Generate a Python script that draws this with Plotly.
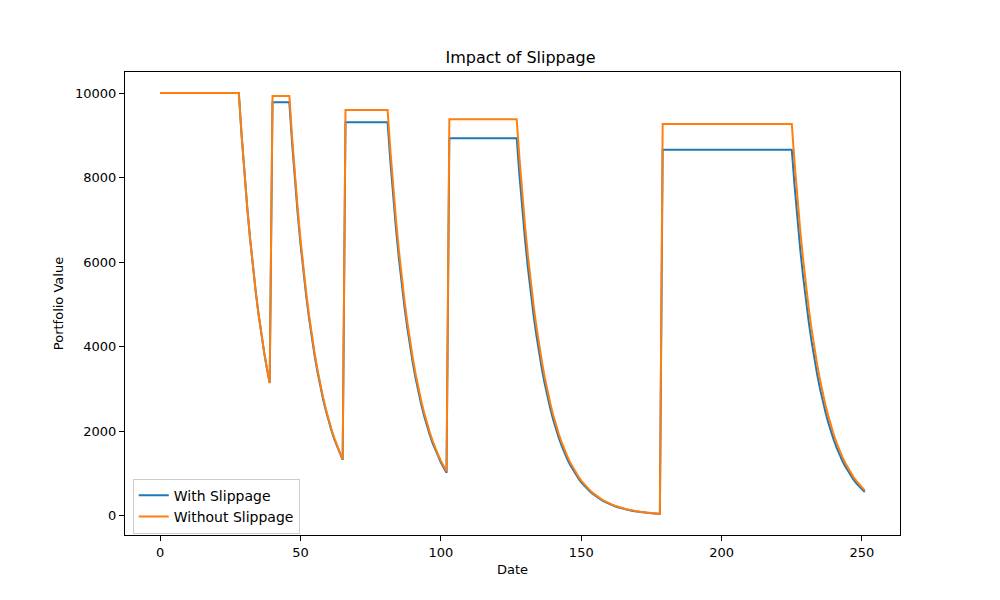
import plotly.graph_objects as go

# day index (0..251)
jours = list(range(252))

# portfolio value with slippage
avec_slippage = [
    10000, 10000, 10000, 10000, 10000, 10000, 10000, 10000, 10000, 10000,
    10000, 10000, 10000, 10000, 10000, 10000, 10000, 10000, 10000, 10000,
    10000, 10000, 10000, 10000, 10000, 10000, 10000, 10000, 10000,
    9000, 8100, 7290, 6561, 5905, 5314, 4783, 4305, 3874, 3487, 3138,
    9780, 9780, 9780, 9780, 9780, 9780, 9780,
    8802, 7922, 7130, 6417, 5775, 5198, 4678, 4210, 3789, 3410,
    3069, 2762, 2486, 2237, 2014, 1812, 1631, 1468, 1321,
    9310, 9310, 9310, 9310, 9310, 9310, 9310, 9310, 9310, 9310,
    9310, 9310, 9310, 9310, 9310, 9310,
    8379, 7541, 6787, 6108, 5497, 4948, 4453, 4008, 3607, 3246,
    2922, 2629, 2366, 2130, 1917, 1725, 1553, 1397, 1258, 1132, 1019,
    8930, 8930, 8930, 8930, 8930, 8930, 8930, 8930, 8930, 8930,
    8930, 8930, 8930, 8930, 8930, 8930, 8930, 8930, 8930, 8930,
    8930, 8930, 8930, 8930, 8930,
    8037, 7233, 6510, 5859, 5273, 4746, 4271, 3844, 3460, 3114,
    2802, 2522, 2270, 2043, 1839, 1655, 1489, 1340, 1206, 1086,
    977, 879, 791, 712, 641, 577, 519, 467, 421, 379,
    341, 307, 276, 248, 224, 201, 181, 163, 147, 132,
    119, 107, 96, 87, 78, 70, 63, 57, 51, 46, 41,
    8660, 8660, 8660, 8660, 8660, 8660, 8660, 8660, 8660, 8660,
    8660, 8660, 8660, 8660, 8660, 8660, 8660, 8660, 8660, 8660,
    8660, 8660, 8660, 8660, 8660, 8660, 8660, 8660, 8660, 8660,
    8660, 8660, 8660, 8660, 8660, 8660, 8660, 8660, 8660, 8660,
    8660, 8660, 8660, 8660, 8660, 8660, 8660,
    7794, 7015, 6313, 5682, 5114, 4602, 4142, 3728, 3355, 3020,
    2718, 2446, 2201, 1981, 1783, 1605, 1444, 1300, 1170, 1053,
    948, 853, 768, 691, 622, 560,
]

# portfolio value without slippage
sans_slippage = [
    10000, 10000, 10000, 10000, 10000, 10000, 10000, 10000, 10000, 10000,
    10000, 10000, 10000, 10000, 10000, 10000, 10000, 10000, 10000, 10000,
    10000, 10000, 10000, 10000, 10000, 10000, 10000, 10000, 10000,
    9000, 8100, 7290, 6561, 5905, 5314, 4783, 4305, 3874, 3487, 3138,
    9930, 9930, 9930, 9930, 9930, 9930, 9930,
    8937, 8043, 7239, 6515, 5864, 5277, 4749, 4275, 3847, 3462,
    3116, 2805, 2524, 2272, 2045, 1840, 1656, 1490, 1341,
    9600, 9600, 9600, 9600, 9600, 9600, 9600, 9600, 9600, 9600,
    9600, 9600, 9600, 9600, 9600, 9600,
    8640, 7776, 6998, 6299, 5669, 5102, 4592, 4132, 3719, 3347,
    3013, 2711, 2440, 2196, 1977, 1779, 1601, 1441, 1297, 1167, 1050,
    9380, 9380, 9380, 9380, 9380, 9380, 9380, 9380, 9380, 9380,
    9380, 9380, 9380, 9380, 9380, 9380, 9380, 9380, 9380, 9380,
    9380, 9380, 9380, 9380, 9380,
    8442, 7598, 6838, 6154, 5539, 4985, 4486, 4038, 3634, 3271,
    2944, 2649, 2384, 2146, 1931, 1738, 1564, 1408, 1267, 1140,
    1026, 924, 831, 748, 673, 606, 545, 491, 442, 398,
    358, 322, 290, 261, 235, 211, 190, 171, 154, 139,
    125, 112, 101, 91, 82, 74, 66, 60, 54, 48, 44,
    9270, 9270, 9270, 9270, 9270, 9270, 9270, 9270, 9270, 9270,
    9270, 9270, 9270, 9270, 9270, 9270, 9270, 9270, 9270, 9270,
    9270, 9270, 9270, 9270, 9270, 9270, 9270, 9270, 9270, 9270,
    9270, 9270, 9270, 9270, 9270, 9270, 9270, 9270, 9270, 9270,
    9270, 9270, 9270, 9270, 9270, 9270, 9270,
    8343, 7509, 6758, 6082, 5474, 4926, 4434, 3990, 3591, 3232,
    2909, 2618, 2356, 2121, 1909, 1718, 1546, 1391, 1252, 1127,
    1014, 913, 822, 739, 665, 599,
]

ticks_x = [0, 50, 100, 150, 200, 250]
ticks_y = [0, 2000, 4000, 6000, 8000, 10000]
labels_y = ["0", "2000", "4000", "6000", "8000", "10000"]

fig = go.Figure()
fig.add_trace(go.Scatter(x=jours, y=avec_slippage, mode="lines", name="With Slippage",
                         line=dict(color="#1f77b4", width=2)))
fig.add_trace(go.Scatter(x=jours, y=sans_slippage, mode="lines", name="Without Slippage",
                         line=dict(color="#ff7f0e", width=2)))

axe = dict(showgrid=False, zeroline=False, showline=True, linecolor="black", linewidth=1,
           mirror=True, ticks="outside", ticklen=5, tickcolor="black", automargin=False,
           tickfont=dict(size=13, color="black"))

# la page ajoute ~8px de marge autour de la figure, d'où le décalage
fig.update_layout(
    width=1000, height=600,
    paper_bgcolor="white", plot_bgcolor="white",
    font=dict(family="DejaVu Sans", size=13, color="black"),
    margin=dict(l=117, r=108, t=64, b=73),
    title=dict(text="Impact of Slippage", x=0.5125, xanchor="center", y=0.917, yanchor="middle",
               font=dict(size=16, color="black")),
    xaxis=dict(axe, range=[-12.55, 263.55], tickvals=ticks_x,
               title=dict(text="Date", standoff=6, font=dict(size=13))),
    yaxis=dict(axe, range=[-457, 10498], tickvals=ticks_y, ticktext=labels_y,
               title=dict(text="Portfolio Value", standoff=8, font=dict(size=13))),
    legend=dict(x=0.01, y=0.003, xanchor="left", yanchor="bottom",
                bgcolor="rgba(255,255,255,0.8)", bordercolor="#cccccc", borderwidth=1,
                font=dict(size=14)),
    showlegend=True,
)

fig.write_html("out.html")
